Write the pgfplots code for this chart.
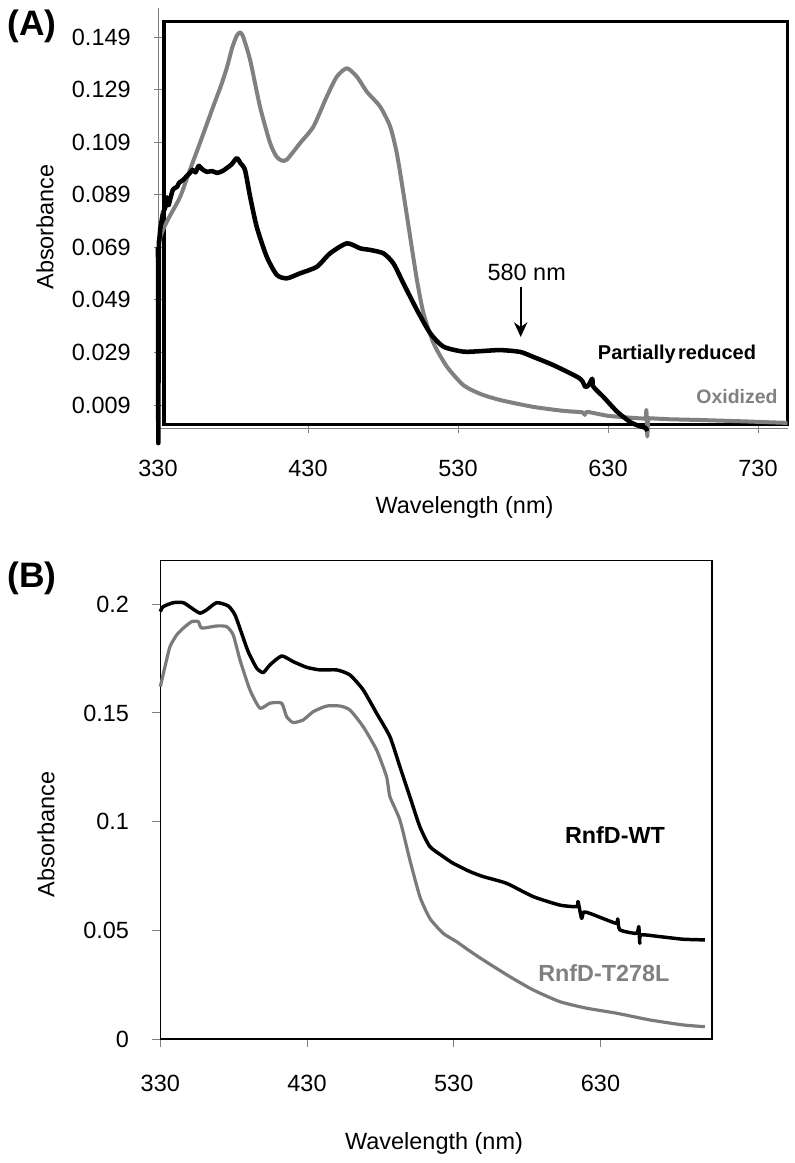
\documentclass[border=0pt]{standalone}
\usepackage{fontspec}
\setmainfont{Liberation Sans}
\usepackage{pgfplots}
\pgfplotsset{compat=1.18}
\usetikzlibrary{arrows.meta}
\definecolor{cgray}{HTML}{808080}
\definecolor{tgray}{HTML}{7A7A7A}

\pgfplotstableread{
x y
330 0.0706
331.3 0.0725
333.3 0.0756
337 0.0800
344.7 0.0881
351 0.0980
358.0 0.1087
366.7 0.1224
372 0.1305
376.0 0.1375
379.5 0.1450
382.5 0.1495
384.5 0.1507
386.5 0.1495
391.4 0.1403
398.0 0.1225
404.7 0.1087
409 0.1035
412.5 0.1020
416 0.1024
424.8 0.1087
433.6 0.1149
442.5 0.1263
449.2 0.1339
455.9 0.1371
462.6 0.1339
469.2 0.1282
478.1 0.1225
484.8 0.1149
489.2 0.1048
493.6 0.0896
498.1 0.0730
502.6 0.0566
507.0 0.0439
513.7 0.0325
522.6 0.0236
533.7 0.0165
545 0.0132
558.1 0.0109
580.2 0.0083
600 0.0068
613 0.0062
614.5 0.0052
616 0.0064
630 0.0049
646.9 0.0041
655 0.0038
}\oxid

\pgfplotstableread{
x y
655 0.0038
655.6 0.0072
656.2 -0.0030
656.8 0.0040
670 0.0036
691.6 0.0033
720 0.0028
749.6 0.0022
}\oxidb

\pgfplotstableread{
x y
330 0.0690
330.2 -0.0055
330.6 0.0700
331.5 0.0760
333.3 0.0821
}\preda

\pgfplotstableread{
x y
333.3 0.0821
335 0.0845
336 0.0880
337 0.0850
338.0 0.0870
340 0.0910
342.7 0.0920
344 0.0935
346.7 0.0946
349 0.0960
351.3 0.0973
353 0.0985
355 0.0975
357 0.1000
358.0 0.0996
360 0.0985
362.7 0.0977
366 0.0980
369.4 0.0973
373 0.0980
376.0 0.0992
379 0.1005
382.5 0.1029
385 0.1010
388.0 0.0984
391.4 0.0883
395.8 0.0768
402.5 0.0654
409.2 0.0585
415.9 0.0572
424.7 0.0591
435.9 0.0616
444.7 0.0667
455.9 0.0705
464.8 0.0686
471.4 0.0680
480.3 0.0667
486.9 0.0629
493.6 0.0553
502.6 0.0452
511.5 0.0363
520.3 0.0312
533.7 0.0293
545 0.0295
558.1 0.0299
571.5 0.0292
580.2 0.0273
593.5 0.0242
609.5 0.0197
613 0.0180
614.9 0.0159
617 0.0165
619.5 0.0190
620.2 0.0160
626.9 0.0121
636.2 0.0064
644.9 0.0025
650 0.0012
654.9 0.0003
656.2 -0.0009
}\pred

\pgfplotstableread{
x y
330 0.1966
332.0 0.1989
338.9 0.2007
345.7 0.2007
351.4 0.1982
357.0 0.1959
361.6 0.1974
368.4 0.2007
376.3 0.1992
380.9 0.1951
385.4 0.1867
389.9 0.1782
395.7 0.1706
400.2 0.1686
404.7 0.1721
412.7 0.1762
420.6 0.1736
429.7 0.1710
438.8 0.1698
450.2 0.1698
459.2 0.1675
468.3 0.1606
477.4 0.1499
486.5 0.1391
493.3 0.1253
500.1 0.1115
506.9 0.0977
513.7 0.0886
522.8 0.0840
529.6 0.0809
541.0 0.0771
550.0 0.0748
566.0 0.0717
584.1 0.0656
602.3 0.0617
613.7 0.0610
614.7 0.0633
617.1 0.0556
618.5 0.0585
622.7 0.0579
634.1 0.0549
640.9 0.0533
641.8 0.0553
643.2 0.0503
654.5 0.0487
656.1 0.0518
656.8 0.0441
657.5 0.0480
670.4 0.0472
686.3 0.0460
701.1 0.0457
}\wt

\pgfplotstableread{
x y
330 0.1621
333.2 0.1713
336.6 0.1805
341.2 0.1859
345.7 0.1890
351.4 0.1920
355.9 0.1920
358.2 0.1890
368.4 0.1900
375.2 0.1897
379.7 0.1859
384.3 0.1744
391.1 0.1606
397.9 0.1522
404.7 0.1545
412.7 0.1545
416.1 0.1483
420.6 0.1456
427.4 0.1468
434.2 0.1506
443.4 0.1532
452.4 0.1532
459.2 0.1514
468.3 0.1437
477.4 0.1330
484.2 0.1207
486.5 0.1115
493.3 0.1008
500.1 0.0824
506.9 0.0656
513.7 0.0556
522.8 0.0487
531.9 0.0449
539.8 0.0411
550.0 0.0365
568.2 0.0288
584.1 0.0227
602.3 0.0173
620.5 0.0143
640.9 0.0120
663.6 0.0089
686.3 0.0066
701.1 0.0058
}\mut

\pgfplotsset{
  myaxis/.style={
    scale only axis, anchor=south west, clip=false,
    tick align=outside, major tick length=6pt,
    tick style={cgray, line width=0.75pt},
    xtick pos=bottom, ytick pos=left,
    tick label style={font=\fontsize{17.6}{20}\selectfont, inner sep=0pt},
    xticklabel style={anchor=base, yshift=-33pt},
    yticklabel style={anchor=east, xshift=-17.3pt},
  }
}

\begin{document}
\begin{tikzpicture}[x=0.75pt,y=0.75pt]
\path[use as bounding box] (0,0) rectangle (794,1163);

% Panel A
\begin{axis}[myaxis,
  at={(118.5pt,550.725pt)},
  width=472.5pt, height=315.45pt,
  xmin=330, xmax=750, ymin=0, ymax=0.16,
  axis lines=left,
  axis line style={cgray, line width=0.75pt, -},
  xtick={330,430,530,630,730},
  xticklabels={330,430,530,630,730},
  ytick={0.009,0.029,0.049,0.069,0.089,0.109,0.129,0.149},
  yticklabels={0.009,0.029,0.049,0.069,0.089,0.109,0.129,0.149},
]
\draw[black, line width=2.3pt] (axis cs:334,0.0016) rectangle (axis cs:749.5,0.155);
\addplot[cgray, line width=3pt, line join=round, smooth, tension=0.4] table {\oxid};
\addplot[cgray, line width=3pt, line join=round] table {\oxidb};
\addplot[black, line width=3.4pt, line join=round] table {\preda};
\addplot[black, line width=3.4pt, line join=round, smooth, tension=0.4] table {\pred};
\end{axis}

% Panel B
\begin{axis}[myaxis,
  at={(120.225pt,92.775pt)},
  width=413.55pt, height=358.95pt,
  xmin=330, xmax=705.8, ymin=0, ymax=0.22,
  axis line style={black, line width=1.2pt},
  xtick={330,430,530,630},
  xticklabels={330,430,530,630},
  ytick={0,0.05,0.1,0.15,0.2},
  yticklabels={0,0.05,0.1,0.15,0.2},
]
\addplot[tgray, line width=2.4pt, line join=round, smooth, tension=0.35] table {\mut};
\addplot[black, line width=2.6pt, line join=round, smooth, tension=0.35] table {\wt};
\end{axis}

% Annotations
\node[anchor=west, font=\fontsize{26.5}{29}\selectfont\bfseries, inner sep=0pt] at (7,1137) {(A)};
\node[anchor=west, font=\fontsize{26.5}{29}\selectfont\bfseries, inner sep=0pt] at (7,585) {(B)};

\node[rotate=90, font=\fontsize{17.6}{20}\selectfont, inner sep=0pt] at (45,936) {Absorbance};
\node[rotate=90, font=\fontsize{17.6}{20}\selectfont, inner sep=0pt] at (46,328.5) {Absorbance};
\node[anchor=base, font=\fontsize{17.6}{20}\selectfont, inner sep=0pt] at (464.5,649.7) {Wavelength (nm)};
\node[anchor=base, font=\fontsize{17.6}{20}\selectfont, inner sep=0pt] at (434,13) {Wavelength (nm)};

\node[font=\fontsize{17.6}{20}\selectfont, inner sep=0pt] at (526.7,890.3) {580 nm};
\draw[-{Stealth[length=11pt,width=10pt]}, line width=1.6pt] (520.7,876) -- (520.7,826);
\node[font=\fontsize{15}{18}\selectfont\bfseries, inner sep=0pt] at (677,809) {Partially\hspace{0.12em}reduced};
\node[font=\fontsize{14.6}{18}\selectfont\bfseries, text=cgray, inner sep=0pt] at (737,766) {Oxidized};
\node[font=\fontsize{17.5}{20}\selectfont\bfseries, inner sep=0pt] at (615,327.7) {RnfD-WT};
\node[font=\fontsize{17.5}{20}\selectfont\bfseries, text=cgray, inner sep=0pt] at (603.8,189.7) {RnfD-T278L};
\end{tikzpicture}
\end{document}
